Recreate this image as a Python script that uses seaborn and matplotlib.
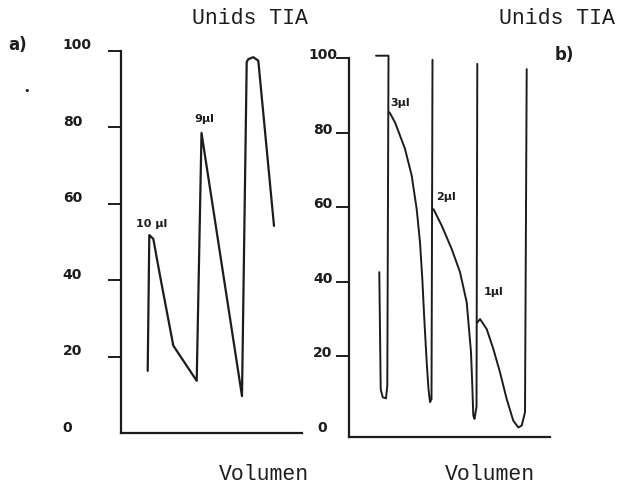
import numpy as np
import pandas as pd
import matplotlib
matplotlib.use("Agg")
import matplotlib.pyplot as plt
import seaborn as sns

# ---------------- data ----------------
y_ticks = [20, 40, 60, 80, 100]
y_labels = [0, 20, 40, 60, 80, 100]

# panel a) trace (Volumen arbitrary units, Unids TIA)
vol_a = [26.7, 28.3, 32.3, 39.0, 52.3, 75.7, 80.5, 121.0, 125.7, 127.3, 132.3, 137.3, 153.0]
tia_a = [16.3, 51.8, 50.8, 41.2, 22.9, 13.7, 78.5, 9.7, 97.0, 97.8, 98.3, 97.4, 54.2]
peaks_a = ["10 μl", "9μl"]
peak_idx_a = [1, 6]

# panel b) trace, in segments
vol_b0 = [30.3, 31.7, 33.7, 37.0, 38.3, 39.5, 27.0]
tia_b0 = [42.6, 11.2, 9.0, 8.7, 12.1, 100.7, 100.7]
vol_b1 = [40.5, 46.0, 56.0, 62.7, 67.7, 71.0, 73.3, 75.3, 77.7, 79.5, 81.0, 82.5, 83.5]
tia_b1 = [85.5, 82.8, 75.7, 68.5, 59.5, 50.6, 40.8, 30.0, 18.4, 11.2, 7.7, 8.5, 99.6]
vol_b2 = [84.5, 92.7, 102.7, 111.0, 117.7, 122.0, 123.3, 124.3, 125.5, 127.5, 128.3]
tia_b2 = [59.5, 55.1, 48.8, 42.6, 34.5, 21.1, 12.1, 4.1, 3.2, 6.4, 98.5]
vol_b3 = [128.5, 131.0, 137.7, 144.3, 151.0, 157.7, 164.3, 169.3, 172.7, 176.0, 177.7]
tia_b3 = [29.1, 30.0, 27.3, 22.0, 15.7, 8.5, 2.7, 0.9, 1.4, 5.0, 97.1]
peaks_b = ["3μl", "2μl", "1μl"]

# ---------------- figure ----------------
sns.set_style("white")
plt.rcParams["font.family"] = ["DejaVu Sans"]
INK = "#1c1c1c"

fig = plt.figure(figsize=(6.24, 4.85), dpi=100)
ax_a = fig.add_axes([121 / 624, 0.1047, 181 / 624, 0.7887])
ax_b = fig.add_axes([349 / 624, 0.0959, 201 / 624, 0.7818])

df_a = pd.DataFrame({"vol": vol_a, "tia": tia_a, "seg": 0})
sns.lineplot(data=df_a, x="vol", y="tia", units="seg", estimator=None, sort=False,
             color=INK, lw=1.6, ax=ax_a, legend=False)

segs = [(vol_b0, tia_b0), (vol_b1, tia_b1), (vol_b2, tia_b2), (vol_b3, tia_b3)]
df_b = pd.concat([pd.DataFrame({"vol": v, "tia": t, "seg": i}) for i, (v, t) in enumerate(segs)])
sns.lineplot(data=df_b, x="vol", y="tia", units="seg", estimator=None, sort=False,
             color=INK, lw=1.4, ax=ax_b, legend=False)
for ln in ax_b.lines + ax_a.lines:
    ln.set_clip_on(False)
    ln.set_solid_joinstyle("round")

ax_a.set_xlim(0, 181)
ax_a.set_ylim(0, 100)
ax_b.set_xlim(0, 201)
ax_b.set_ylim(-1.8, 100)

for ax in (ax_a, ax_b):
    sns.despine(ax=ax)
    for s in ("left", "bottom"):
        ax.spines[s].set_color(INK)
        ax.spines[s].set_linewidth(1.6)
    ax.set_xticks([])
    ax.set_yticks(y_ticks)
    ax.set_yticklabels([])
    ax.tick_params(axis="y", direction="out", length=9.5, width=1.4, color=INK, left=True)
    ax.set_xlabel("")
    ax.set_ylabel("")
    ax.patch.set_alpha(0)

# tick labels (hand-lettered style positions)
for v in y_labels:
    ax_a.annotate(str(v), xy=(0, v), xycoords=("axes fraction", "data"),
                  xytext=(-42, 4.5), textcoords="offset points", ha="left", va="center",
                  fontsize=10, fontweight="bold", color=INK)
    ax_b.annotate(str(v), xy=(0, v), xycoords=("axes fraction", "data"),
                  xytext=(-19, 3), textcoords="offset points", ha="center", va="center",
                  fontsize=10, fontweight="bold", color=INK)

# peak labels
offs_a = [(2, 9), (2, 11)]
for lab, i, off in zip(peaks_a, peak_idx_a, offs_a):
    ax_a.annotate(lab, xy=(vol_a[i], tia_a[i]), xytext=off, textcoords="offset points",
                  ha="center", va="center", fontsize=8, fontweight="bold", color=INK)
starts_b = [(vol_b1[0], tia_b1[0]), (vol_b2[0], tia_b2[0]), (vol_b3[1], tia_b3[1])]
offs_b = [(8, 7.5), (9, 9.5), (9.5, 20)]
for lab, xy, off in zip(peaks_b, starts_b, offs_b):
    ax_b.annotate(lab, xy=xy, xytext=off, textcoords="offset points",
                  ha="center", va="center", fontsize=8, fontweight="bold", color=INK)

mono = ["Liberation Mono", "DejaVu Sans Mono"]
fig.text(250 / 624, 1 - 18 / 485, "Unids TIA", family=mono, fontsize=15.5,
         ha="center", va="center", color=INK)
fig.text(557 / 624, 1 - 18 / 485, "Unids TIA", family=mono, fontsize=15.5,
         ha="center", va="center", color=INK)
fig.text(264 / 624, 1 - 475 / 485, "Volumen", family=mono, fontsize=15.5,
         ha="center", va="center", color=INK)
fig.text(490 / 624, 1 - 475 / 485, "Volumen", family=mono, fontsize=15.5,
         ha="center", va="center", color=INK)
fig.text(18 / 624, 1 - 45 / 485, "a)", fontsize=12, fontweight="bold",
         ha="center", va="center", color=INK)
fig.text(564 / 624, 1 - 55 / 485, "b)", fontsize=12, fontweight="bold",
         ha="center", va="center", color=INK)
fig.text(27 / 624, 1 - 91 / 485, "•", fontsize=8, ha="center", va="center", color=INK)

fig.savefig("out.png", dpi=100, facecolor="white")
